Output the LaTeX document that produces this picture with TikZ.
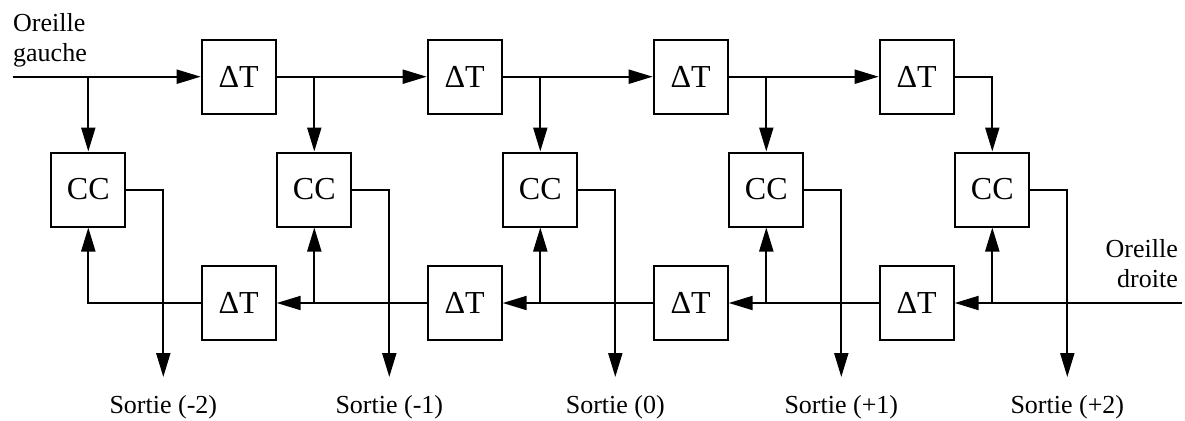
\documentclass[tikz,border=0pt]{standalone}
\usepackage{fontspec}
\setmainfont{Liberation Serif}
\usetikzlibrary{arrows.meta}
\begin{document}
\begin{tikzpicture}[x=1pt,y=-1pt,
  blk/.style={draw,line width=2pt,minimum size=74pt,inner sep=0pt,font=\fontsize{32}{36}\selectfont},
  wire/.style={line width=2pt},
  arr/.style={wire,-{Triangle[length=24pt,width=14pt]}},
  lbl/.style={font=\fontsize{26}{30}\selectfont,inner sep=0pt}]
\useasboundingbox (0,0) rectangle (1185,420);
% delay lines (top: left ear, bottom: right ear) and coincidence cells
\foreach \k in {1,...,4}{
  \node[blk] (dt\k) at ({238.7+226*(\k-1)},76.7) {ΔT};
  \node[blk] (db\k) at ({238.7+226*(\k-1)},303) {ΔT};
}
\foreach \k in {1,...,5}{
  \node[blk] (cc\k) at ({88.3+226*(\k-1)},189.5) {CC};
  \coordinate (o\k) at ({163.3+226*(\k-1)},377);
}
\coordinate (inL) at (12.7,76.7);
\coordinate (inR) at (1181.7,303);
% left-ear input
\draw[arr] (inL) -- (dt1.west);
\draw[arr] (cc1 |- inL) -- (cc1.north);
\foreach \k/\n in {1/2,2/3,3/4}{
  \draw[arr] (dt\k.east) -- (dt\n.west);
  \draw[arr] (cc\n |- dt\k.east) -- (cc\n.north);
}
\draw[arr] (dt4.east) -| (cc5.north);
% right-ear input
\draw[arr] (inR) -- (db4.east);
\draw[arr] (cc5 |- inR) -- (cc5.south);
\foreach \k/\n in {1/2,2/3,3/4}{
  \draw[arr] (db\n.west) -- (db\k.east);
  \draw[arr] (cc\n |- db\k.east) -- (cc\n.south);
}
\draw[arr] (db1.west) -| (cc1.south);
% outputs
\foreach \k in {1,...,5}{
  \draw[arr] (cc\k.east) -| (o\k);
}
\node[lbl,anchor=base] (s1) at (163.3,413) {Sortie (-2)};
\node[lbl,anchor=base] (s2) at (389.3,413) {Sortie (-1)};
\node[lbl,anchor=base] (s3) at (615.3,413) {Sortie (0)};
\node[lbl,anchor=base] (s4) at (841.3,413) {Sortie (+1)};
\node[lbl,anchor=base] (s5) at (1067.3,413) {Sortie (+2)};
% ear labels (base anchor sits on the last line)
\node[lbl,anchor=base west,align=left] (gl) at (13,62) {Oreille\\gauche};
\node[lbl,anchor=base east,align=right] (dr) at (1178,287.5) {Oreille\\droite};
\end{tikzpicture}
\end{document}
